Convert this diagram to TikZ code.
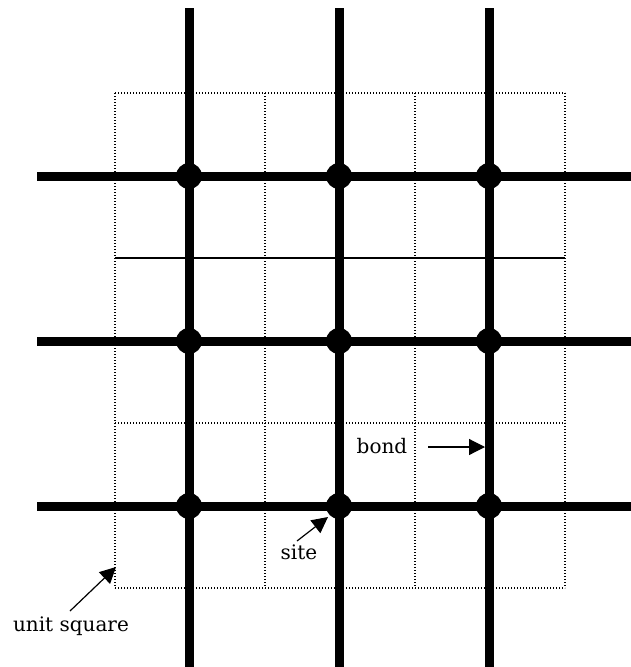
\documentclass[tikz,border=0pt]{standalone}
\usepackage{fontspec}
\setmainfont{DejaVu Serif}
\usepackage{tikz}
\usetikzlibrary{arrows.meta,positioning}

\begin{document}
\begin{tikzpicture}[
    x=1pt, y=-1pt,
    site/.style={circle, fill=black, inner sep=0pt, minimum size=26pt},
    bond/.style={line width=9pt},
    cell/.style={line width=1.3pt, dash pattern=on 1.3pt off 1.7pt},
    label/.style={font=\fontsize{20}{22}\selectfont, inner sep=0pt},
    pointer/.style={line width=1.2pt, -{Triangle[length=16pt,width=16pt]}}
]
    \useasboundingbox (0,0) rectangle (631,667);

    % unit squares
    \foreach \x in {115,265,415,565}
        \draw[cell] (\x,93) -- (\x,588);
    \foreach \y in {93,423,588}
        \draw[cell] (115,\y) -- (565,\y);
    \draw[line width=1.2pt] (115,258) -- (565,258);

    % bonds
    \foreach \x/\n in {189/a,339/b,489/c} {
        \coordinate (top\n) at (\x,8);
        \coordinate (bot\n) at (\x,667);
        \draw[bond] (top\n) -- (bot\n);
    }
    \foreach \y/\n in {176/a,341/b,506/c} {
        \coordinate (left\n) at (37,\y);
        \coordinate (right\n) at (631,\y);
        \draw[bond] (left\n) -- (right\n);
    }

    % sites
    \foreach \x/\i in {189/1,339/2,489/3}
        \foreach \y/\j in {176/1,341/2,506/3}
            \node[site] (s\i\j) at (\x,\y) {};

    % labels
    \node[label] (bondlbl) at (382,446) {bond};
    \node[label] (sitelbl) at (299,552) {site};
    \node[label] (unitlbl) at (71,626) {unit square};

    \coordinate (bondtail) at (428,447);
    \coordinate (bondtip) at (485,447);
    \coordinate (sitetail) at (297,541);
    \coordinate (sitetip) at (328,517);
    \coordinate (unittail) at (70,611);
    \coordinate (unittip) at (116,567);

    \draw[pointer] (bondtail) -- (bondtip);
    \draw[pointer] (sitetail) -- (sitetip);
    \draw[pointer] (unittail) -- (unittip);
\end{tikzpicture}
\end{document}
